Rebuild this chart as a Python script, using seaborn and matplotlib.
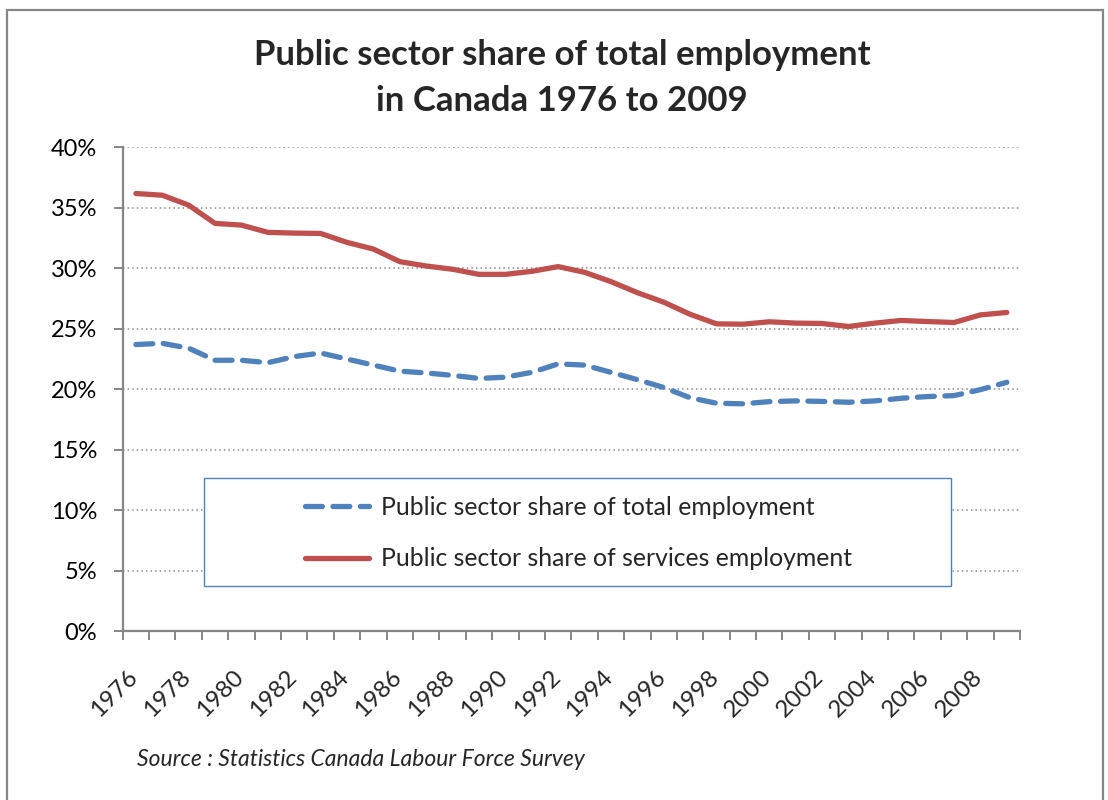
import matplotlib
matplotlib.use("Agg")
import matplotlib.pyplot as plt
import matplotlib.transforms as mtransforms
from matplotlib.patches import Rectangle
from matplotlib.lines import Line2D
import numpy as np
import pandas as pd
import seaborn as sns

years = list(range(1976, 2010))
total_share = [23.7, 23.8, 23.4, 22.4, 22.4, 22.2, 22.7, 23.0, 22.5, 22.0,
               21.5, 21.35, 21.15, 20.9, 21.0, 21.4, 22.1, 22.0, 21.4, 20.8,
               20.15, 19.3, 18.85, 18.8, 18.98, 19.04, 19.0, 18.93, 19.04, 19.26,
               19.4, 19.48, 19.97, 20.58]
services_share = [36.18, 36.04, 35.22, 33.71, 33.57, 32.97, 32.91, 32.88, 32.14, 31.59,
                  30.55, 30.19, 29.92, 29.5, 29.5, 29.75, 30.14, 29.67, 28.9, 27.99,
                  27.2, 26.2, 25.41, 25.38, 25.58, 25.47, 25.44, 25.19, 25.47, 25.69,
                  25.6, 25.52, 26.15, 26.35]
series_names = ["Public sector share of total employment",
                "Public sector share of services employment"]
y_ticks = [0, 5, 10, 15, 20, 25, 30, 35, 40]

sns.set_theme(style="white")
plt.rcParams["font.family"] = ["Lato", "DejaVu Sans"]

W, H = 1108, 800
fig = plt.figure(figsize=(W / 100, H / 100), dpi=100)
ax = fig.add_axes([122.7 / W, 1 - 631.3 / H, (1020 - 122.7) / W, (631.3 - 147.3) / H])

pos = np.arange(len(years))
df = pd.DataFrame({"pos": pos, "total": np.array(total_share) / 100,
                   "services": np.array(services_share) / 100})

blue = "#4F81BD"
red = "#C0504D"
sns.lineplot(data=df, x="pos", y="total", ax=ax, color=blue, linewidth=3.8, zorder=3)
ax.lines[-1].set_linestyle((0, (3.2, 2.0)))
ax.lines[-1].set_dash_capstyle("round")
sns.lineplot(data=df, x="pos", y="services", ax=ax, color=red, linewidth=3.8, zorder=3)
ax.lines[-1].set_solid_capstyle("round")

ax.set_xlim(-0.5, len(years) - 0.5)
ax.set_ylim(0, 0.40)
ax.set_xlabel("")
ax.set_ylabel("")

# y axis
ax.set_yticks([v / 100 for v in y_ticks])
ax.set_yticklabels([f"{v}%" for v in y_ticks], fontsize=17, color="black")
ax.tick_params(axis="y", which="major", direction="out", length=6.5, width=1.4,
               color="#868686", pad=12, left=True)
ax.yaxis.grid(True, linestyle=(0, (1, 2)), color="#8c8c8c", linewidth=1.1)
ax.xaxis.grid(False)

# x axis: tick marks at category boundaries, labels at centers
ax.set_xticks(np.arange(-0.5, len(years), 1.0))
ax.set_xticklabels([])
ax.tick_params(axis="x", which="major", direction="out", length=6.5, width=1.4,
               color="#868686", bottom=True)
ax.set_xticks(pos[::2], minor=True)
ax.set_xticklabels([str(y) for y in years[::2]], minor=True, rotation=45,
                   ha="right", va="top", fontsize=17.5)
ax.tick_params(axis="x", which="minor", length=0, pad=25)
offset = mtransforms.ScaledTranslation(6 / 100, 0, fig.dpi_scale_trans)
for lbl in ax.get_xticklabels(minor=True):
    lbl.set_transform(lbl.get_transform() + offset)

for side in ["top", "right"]:
    ax.spines[side].set_visible(False)
for side in ["left", "bottom"]:
    ax.spines[side].set_color("#868686")
    ax.spines[side].set_linewidth(1.6)

# legend box
lx0 = (204 - 122.7) / (1020 - 122.7)
lx1 = (951 - 122.7) / (1020 - 122.7)
ly0 = (631.3 - 586) / 484
ly1 = (631.3 - 478) / 484
ax.add_patch(Rectangle((lx0, ly0), lx1 - lx0, ly1 - ly0, transform=ax.transAxes,
                       facecolor="white", edgecolor="#4F81BD", linewidth=1.0, zorder=4))
handles = [Line2D([0], [0], color=blue, linewidth=3.8, linestyle=(0, (3.2, 2.0)),
                  dash_capstyle="round"),
           Line2D([0], [0], color=red, linewidth=3.8, solid_capstyle="round")]
leg = ax.legend(handles, series_names, loc="upper left",
                bbox_to_anchor=((306 - 122.7) / 897.3 - 0.001, (631.3 - 496) / 484),
                frameon=False, fontsize=17.8, handlelength=2.6, handletextpad=0.45,
                labelspacing=1.15, borderpad=0, borderaxespad=0)
leg.set_zorder(5)

# title
fig.text(562 / W, 1 - 55 / H, "Public sector share of total employment",
         ha="center", va="center", fontsize=25, fontweight="bold")
fig.text(562 / W, 1 - 101 / H, "in Canada 1976 to 2009",
         ha="center", va="center", fontsize=25, fontweight="bold")

# source
fig.text(137 / W, 1 - 760 / H, "Source : Statistics Canada Labour Force Survey",
         ha="left", va="center", fontsize=16.5, style="italic")

# outer chart border
fig.patches.append(Rectangle((6.5 / W, -0.02), (1103 - 6.5) / W, 1.02 - 9.5 / H,
                             transform=fig.transFigure, fill=False,
                             edgecolor="#868686", linewidth=1.6))

fig.savefig("out.png", dpi=100, facecolor="white")
